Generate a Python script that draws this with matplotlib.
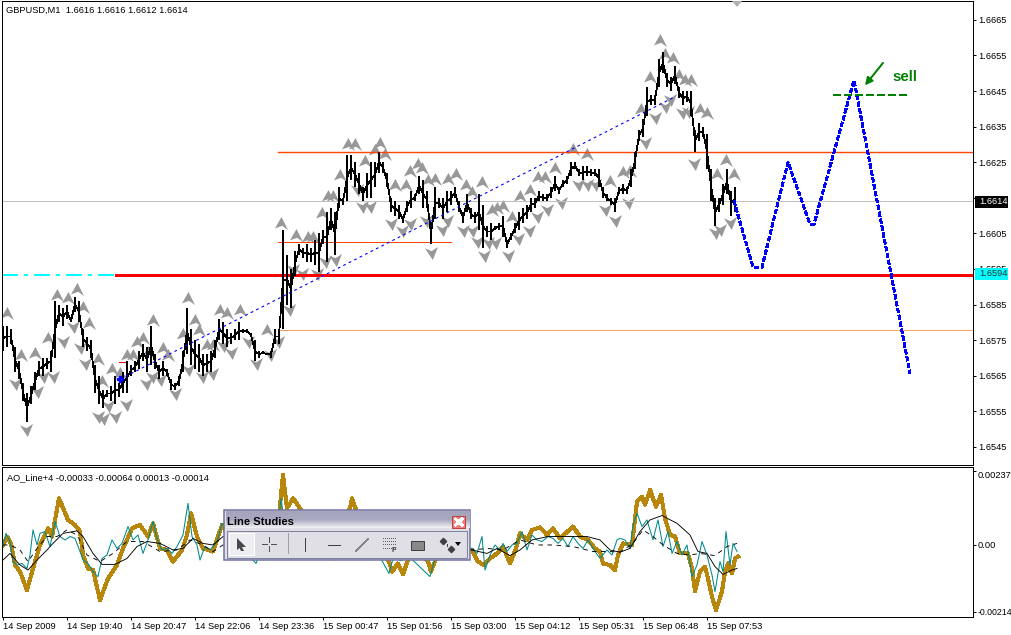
import matplotlib
matplotlib.use("Agg")
import matplotlib.pyplot as plt
import numpy as np
from matplotlib.colors import LinearSegmentedColormap
from matplotlib.patches import FancyArrowPatch, Polygon, Rectangle
from matplotlib.path import Path

W, H = 1012, 635

# M1 bars, sampled every fourth bar
bar_high = [
    1.6579, 1.6579, 1.6578, 1.6573, 1.6569, 1.6563, 1.6560, 1.6562, 1.6566, 1.6569,
    1.6570, 1.6570, 1.6572, 1.6586, 1.6585, 1.6584, 1.6585, 1.6581, 1.6587, 1.6586,
    1.6578, 1.6576, 1.6575, 1.6568, 1.6565, 1.6561, 1.6561, 1.6562, 1.6565, 1.6563,
    1.6566, 1.6569, 1.6568, 1.6569, 1.6572, 1.6574, 1.6573, 1.6579, 1.6571, 1.6568,
    1.6569, 1.6567, 1.6564, 1.6563, 1.6565, 1.6572, 1.6584, 1.6578, 1.6575, 1.6574,
    1.6571, 1.6571, 1.6572, 1.6575, 1.6581, 1.6580, 1.6578, 1.6577, 1.6578, 1.6580,
    1.6578, 1.6578, 1.6577, 1.6575, 1.6572, 1.6572, 1.6571, 1.6572, 1.6578, 1.6578,
    1.6606, 1.6599, 1.6595, 1.6600, 1.6602, 1.6601, 1.6602, 1.6601, 1.6603, 1.6605,
    1.6606, 1.6611, 1.6612, 1.6611, 1.6618, 1.6615, 1.6627, 1.6627, 1.6625, 1.6622,
    1.6618, 1.6622, 1.6625, 1.6625, 1.6628, 1.6625, 1.6622, 1.6615, 1.6614, 1.6613,
    1.6610, 1.6614, 1.6617, 1.6616, 1.6621, 1.6620, 1.6617, 1.6608, 1.6618, 1.6615,
    1.6615, 1.6617, 1.6617, 1.6618, 1.6614, 1.6611, 1.6616, 1.6612, 1.6611, 1.6616,
    1.6613, 1.6607, 1.6608, 1.6607, 1.6608, 1.6610, 1.6603, 1.6605, 1.6608, 1.6611,
    1.6612, 1.6613, 1.6615, 1.6615, 1.6617, 1.6616, 1.6616, 1.6618, 1.6621, 1.6618,
    1.6620, 1.6621, 1.6625, 1.6625, 1.6623, 1.6624, 1.6624, 1.6623, 1.6623, 1.6623,
    1.6618, 1.6616, 1.6615, 1.6615, 1.6618, 1.6619, 1.6618, 1.6623, 1.6628, 1.6634,
    1.6637, 1.6646, 1.6644, 1.6644, 1.6654, 1.6656, 1.6650, 1.6649, 1.6652, 1.6646,
    1.6645, 1.6645, 1.6645, 1.6634, 1.6636, 1.6635, 1.6633, 1.6623, 1.6615, 1.6615,
    1.6619, 1.6623, 1.6617, 1.6618,
]
bar_low = [
    1.6572, 1.6573, 1.6574, 1.6566, 1.6564, 1.6558, 1.6552, 1.6557, 1.6561, 1.6565,
    1.6565, 1.6567, 1.6566, 1.6570, 1.6580, 1.6579, 1.6581, 1.6580, 1.6583, 1.6580,
    1.6573, 1.6572, 1.6570, 1.6560, 1.6557, 1.6556, 1.6559, 1.6558, 1.6557, 1.6559,
    1.6560, 1.6560, 1.6565, 1.6566, 1.6567, 1.6569, 1.6566, 1.6568, 1.6567, 1.6564,
    1.6565, 1.6565, 1.6561, 1.6561, 1.6562, 1.6566, 1.6571, 1.6568, 1.6567, 1.6566,
    1.6565, 1.6566, 1.6566, 1.6570, 1.6575, 1.6574, 1.6573, 1.6574, 1.6575, 1.6575,
    1.6577, 1.6577, 1.6576, 1.6569, 1.6570, 1.6571, 1.6571, 1.6570, 1.6574, 1.6574,
    1.6578, 1.6585, 1.6584, 1.6593, 1.6599, 1.6598, 1.6597, 1.6597, 1.6596, 1.6594,
    1.6602, 1.6597, 1.6606, 1.6599, 1.6612, 1.6613, 1.6614, 1.6620, 1.6618, 1.6616,
    1.6614, 1.6615, 1.6615, 1.6618, 1.6622, 1.6622, 1.6618, 1.6611, 1.6610, 1.6609,
    1.6608, 1.6611, 1.6612, 1.6614, 1.6616, 1.6612, 1.6612, 1.6602, 1.6609, 1.6612,
    1.6609, 1.6611, 1.6613, 1.6615, 1.6611, 1.6608, 1.6611, 1.6609, 1.6608, 1.6606,
    1.6601, 1.6604, 1.6603, 1.6606, 1.6606, 1.6604, 1.6601, 1.6603, 1.6605, 1.6606,
    1.6608, 1.6609, 1.6611, 1.6612, 1.6614, 1.6614, 1.6614, 1.6615, 1.6617, 1.6616,
    1.6618, 1.6619, 1.6621, 1.6623, 1.6621, 1.6620, 1.6621, 1.6621, 1.6621, 1.6618,
    1.6615, 1.6614, 1.6613, 1.6611, 1.6616, 1.6616, 1.6616, 1.6618, 1.6623, 1.6631,
    1.6632, 1.6638, 1.6641, 1.6641, 1.6646, 1.6650, 1.6646, 1.6645, 1.6647, 1.6643,
    1.6641, 1.6642, 1.6638, 1.6628, 1.6631, 1.6632, 1.6623, 1.6614, 1.6607, 1.6611,
    1.6613, 1.6616, 1.6610, 1.6611,
]

# fractals above and below the bars
fractal_up_bar = [
    7, 21, 35, 48, 57, 68, 77, 83, 89, 98, 102, 112, 120, 127, 133, 137, 143, 148, 153,
    163, 168, 183, 188, 195, 199, 207, 213, 220, 227, 240, 267, 281, 296, 308, 313, 322,
    328, 333, 340, 348, 355, 365, 375, 380, 385, 395, 406, 410, 418, 422, 428, 435, 448,
    456, 466, 472, 482, 492, 497, 503, 512, 520, 530, 538, 545, 555, 573, 587, 610, 623,
    630, 641, 650, 660, 665, 673, 679, 685, 691, 700, 707, 717, 726, 734,
]
fractal_up_price = [
    1.65825, 1.65708, 1.65714, 1.65757, 1.65876, 1.65867, 1.65895, 1.65844, 1.65797,
    1.65696, 1.65636, 1.65668, 1.65658, 1.65708, 1.65708, 1.65745, 1.65757, 1.65717,
    1.65806, 1.65727, 1.65708, 1.65767, 1.65867, 1.65806, 1.65778, 1.65736, 1.65736,
    1.65836, 1.65825, 1.65836, 1.65778, 1.66080, 1.66045, 1.66039, 1.66039, 1.66106,
    1.66154, 1.66154, 1.66214, 1.66300, 1.66300, 1.66254, 1.66284, 1.66304, 1.66274,
    1.66185, 1.66185, 1.66226, 1.66244, 1.66235, 1.66200, 1.66204, 1.66204, 1.66216,
    1.66185, 1.66167, 1.66195, 1.66115, 1.66120, 1.66126, 1.66095, 1.66154, 1.66173,
    1.66207, 1.66207, 1.66235, 1.66286, 1.66274, 1.66198, 1.66223, 1.66226, 1.66400,
    1.66490, 1.66593, 1.66554, 1.66544, 1.66495, 1.66482, 1.66482, 1.66400, 1.66387,
    1.66216, 1.66256, 1.66216,
]
fractal_down_bar = [
    15, 26, 37, 43, 53, 63, 73, 80, 85, 98, 103, 108, 115, 126, 146, 152, 160, 175, 188,
    202, 212, 223, 231, 248, 256, 270, 278, 289, 293, 302, 317, 325, 335, 357, 362, 370,
    391, 402, 410, 426, 431, 442, 447, 463, 472, 477, 484, 488, 495, 508, 518, 529, 537,
    547, 561, 578, 587, 595, 605, 615, 628, 645, 655, 665, 670, 682, 688, 694, 715, 720,
    730,
]
fractal_down_price = [
    1.65626, 1.65497, 1.65605, 1.65645, 1.65645, 1.65745, 1.65786, 1.65727, 1.65684,
    1.65534, 1.65527, 1.65564, 1.65534, 1.65567, 1.65628, 1.65645, 1.65638, 1.65598,
    1.65666, 1.65645, 1.65654, 1.65733, 1.65714, 1.65745, 1.65684, 1.65708, 1.65745,
    1.65836, 1.65947, 1.65936, 1.65936, 1.65970, 1.65975, 1.66171, 1.66123, 1.66123,
    1.66076, 1.66057, 1.66076, 1.66085, 1.65995, 1.66060, 1.66085, 1.66057, 1.66057,
    1.66026, 1.65986, 1.66023, 1.66023, 1.65986, 1.66035, 1.66057, 1.66095, 1.66115,
    1.66136, 1.66185, 1.66185, 1.66185, 1.66115, 1.66085, 1.66136, 1.66303, 1.66373,
    1.66404, 1.66424, 1.66387, 1.66392, 1.66244, 1.66050, 1.66059, 1.66078,
]

# hand-drawn forecast and trend line
forecast_bar = [734, 753, 762, 788, 810, 814, 854, 910]
forecast_price = [1.66141, 1.65955, 1.65955, 1.66250, 1.66076, 1.66076, 1.66480, 1.65657]
trend_bar = [120, 675]
trend_price = [1.65640, 1.66434]

res_high = 1.66280
res_short = 1.66027
sup_level = 1.65934
fib_level = 1.65778
last_price = 1.6614
sell_level = 1.66440

price_ticks = [1.6665, 1.6655, 1.6645, 1.6635, 1.6625, 1.6615, 1.6605, 1.6595, 1.6585,
               1.6575, 1.6565, 1.6555, 1.6545]
ao_ticks = [0.00237, 0.0, -0.00214]
ao_tick_labels = ["0.00237", "0.00", "-0.00214"]
time_ticks = [3, 67, 131, 195, 259, 323, 387, 451, 515, 579, 643, 707]
time_labels = [
    "14 Sep 2009", "14 Sep 19:40", "14 Sep 20:47", "14 Sep 22:06", "14 Sep 23:36",
    "15 Sep 00:47", "15 Sep 01:56", "15 Sep 03:00", "15 Sep 04:12", "15 Sep 05:31",
    "15 Sep 06:48", "15 Sep 07:53",
]

# AO_Line indicator buffers
gold_bar = [
    3, 7, 11, 15, 20, 27, 33, 40, 48, 52, 59, 68, 75, 80, 83, 88, 93, 100, 108, 117, 123,
    132, 140, 148, 153, 160, 167, 173, 182, 187, 191, 197, 203, 213, 222, 230, 245, 260,
    270, 278, 283, 287, 293, 300, 310, 320, 340, 350, 352, 355, 365, 380, 389, 392, 398,
    403, 408, 415, 428, 431, 436, 445, 472, 478, 484, 490, 497, 503, 510, 516, 520, 527,
    532, 540, 547, 553, 560, 573, 580, 588, 595, 600, 603, 610, 615, 618, 623, 632, 637,
    642, 645, 650, 656, 661, 665, 670, 675, 680, 688, 692, 695, 700, 705, 708, 712, 716,
    722, 725, 728, 732, 735, 738,
]
gold_val = [
    0.0, 0.00027, 0.00005, -0.00064, -0.00085, -0.00144, -0.00075, 0.0, 0.00053, 0.00027,
    0.00149, 0.0008, 0.00064, 0.00043, -0.00032, -0.00075, -0.0008, -0.00176, -0.00107,
    -0.00064, -0.00011, 0.00053, 0.00064, 0.00027, 0.00069, -0.00011, -0.00016, -0.00053,
    -0.00016, 0.00032, 0.00101, 0.00027, -0.00011, -0.00021, 0.00064, 0.0002, 0.0003,
    -0.0001, 0.0, 0.0006, 0.00224, 0.00117, 0.00149, 0.00117, 0.0005, 0.0, 0.0006, 0.00117,
    0.00149, 0.00122, 0.0004, 0.0, -0.00053, -0.00085, -0.00059, -0.00094, -0.00048,
    -0.0001, -0.00053, -0.00085, -0.00043, 0.0, -0.00016, -0.00053, -0.00064, -0.00043,
    -0.00027, -0.00005, -0.00059, -0.00011, 0.00037, 0.00016, 0.00048, 0.00056, 0.00032,
    0.00053, 0.00021, 0.00059, 0.00027, 0.00016, -0.00011, -0.00021, -0.00059, -0.00064,
    -0.0008, -0.00032, 0.00005, 0.0, 0.00138, 0.00154, 0.00128, 0.00176, 0.00122, 0.0016,
    0.00085, 0.00032, 0.00027, -0.00027, -0.00027, -0.00075, -0.00147, -0.00085, -0.00069,
    -0.00107, -0.00165, -0.00208, -0.00149, -0.00085, -0.00059, -0.00091, -0.00043, -0.00037,
]
teal_bar = [
    3, 6, 10, 13, 17, 22, 27, 30, 33, 37, 40, 45, 50, 55, 60, 65, 70, 75, 80, 83, 88, 93,
    98, 102, 107, 112, 117, 122, 128, 133, 138, 143, 148, 153, 157, 162, 167, 172, 177,
    183, 188, 192, 197, 200, 205, 210, 217, 222, 235, 256, 270, 280, 281, 285, 300, 320,
    335, 350, 370, 389, 395, 400, 410, 430, 436, 450, 472, 477, 482, 485, 490, 495, 500,
    503, 507, 512, 517, 522, 527, 532, 537, 542, 548, 553, 558, 563, 568, 573, 578, 583,
    588, 595, 600, 607, 612, 617, 620, 625, 630, 633, 637, 642, 647, 653, 658, 663, 668,
    672, 677, 682, 687, 692, 697, 702, 707, 712, 715, 720, 723, 726, 730, 733, 737,
]
teal_val = [
    0.0, 0.00037, 0.00011, -0.00053, -0.00064, -0.00059, -0.00075, -0.00032, 0.00048, 0.0,
    0.00037, 0.00043, -0.00005, 0.00075, 0.00027, 0.00016, 0.00027, 0.00021, -0.00021,
    -0.00048, -0.00059, -0.00085, -0.00101, -0.00043, -0.00032, 0.00016, -0.00011, 0.00005,
    0.00059, 0.00016, 0.00032, -0.00027, 0.00016, 0.00075, 0.00021, -0.00016, -0.00011,
    -0.00027, -0.00005, 0.00032, 0.00133, 0.00027, 0.0, -0.00048, -0.00005, -0.00016,
    0.00011, 0.00069, 0.0002, -0.00059, 0.0006, 0.00117, 0.00149, 0.0006, 0.0003, 0.0001,
    -0.00048, 0.0006, 0.0002, -0.00091, -0.0002, -0.0005, -0.0004, -0.00101, -0.0003, 0.0,
    -0.00011, -0.00027, 0.00027, -0.0008, -0.00032, 0.0, -0.00016, 0.00005, -0.00021, 0.0,
    0.00005, 0.00043, -0.00016, 0.00032, 0.00016, 0.00011, 0.00027, 0.00021, 0.00005,
    0.00021, -0.00005, 0.00027, 0.00005, -0.00011, 0.00016, -0.00021, -0.00043, -0.00016,
    -0.00032, 0.00016, 0.00021, 0.00016, -0.00011, 0.00064, 0.00101, 0.00059, 0.0008,
    0.00016, 0.0008, -0.00005, 0.00043, -0.00027, 0.00011, -0.00032, 0.0, -0.00101,
    -0.00064, 0.00011, -0.00032, -0.00096, -0.00149, -0.00053, -0.00085, 0.00043, -0.00064,
    0.00005, -0.00021,
]
ma_slow_bar = [
    3, 10, 20, 28, 37, 47, 53, 63, 77, 83, 93, 102, 115, 127, 137, 147, 160, 173, 183, 193,
    203, 213, 223, 240, 260, 280, 300, 320, 340, 360, 380, 400, 420, 440, 460, 472, 487,
    497, 510, 520, 532, 548, 567, 587, 600, 610, 620, 630, 640, 650, 662, 677, 690, 698,
    707, 715, 723, 732, 737,
]
ma_slow_val = [
    -0.00048, -0.00027, -0.00064, -0.0008, -0.00048, -0.00016, 0.00005, 0.00037, 0.00045,
    0.00027, -0.00027, -0.00062, -0.00062, -0.00043, -0.00005, 0.00011, 0.00005, -0.00016,
    -0.00011, 0.00021, 0.00005, 0.0, 0.00027, 0.0001, -0.0001, 0.0003, 0.0006, 0.0005,
    0.0003, 0.0002, 0.0001, -0.00005, -0.00015, -0.00015, -0.00012, -0.00016, -0.00027,
    -0.00011, -0.00034, -0.00016, 0.00016, 0.00027, 0.00027, 0.00027, 0.00016, -0.00016,
    -0.00023, -0.00011, 0.00043, 0.0008, 0.00094, 0.00069, 0.00032, -0.00021, -0.00027,
    -0.00069, -0.00094, -0.0008, -0.00075,
]
ma_fast_bar = [
    3, 10, 20, 28, 37, 47, 57, 67, 77, 87, 100, 113, 127, 143, 160, 177, 190, 203, 213, 223,
    240, 270, 300, 330, 360, 390, 420, 450, 472, 487, 503, 520, 537, 553, 573, 593, 610,
    620, 633, 643, 653, 663, 677, 690, 700, 715, 727, 737,
]
ma_fast_val = [
    0.0, 0.0, -0.00016, -0.00053, -0.00011, 0.00027, 0.00027, 0.00048, 0.00032, -0.00032,
    -0.00053, -0.00027, 0.00011, 0.00011, -0.00021, -0.00016, 0.00016, 0.0, -0.00021, 0.0,
    0.0001, 0.0002, 0.0004, 0.0003, 0.00015, 0.00005, -0.00005, -0.0001, -0.00016, -0.00011,
    -0.00016, 0.00016, 0.0, 0.0, -0.00005, -0.00021, -0.00021, -0.00023, 0.00005, 0.00048,
    0.00027, 0.0, -0.00027, -0.00032, -0.00027, -0.00034, -0.00005, 0.00005,
]

FONT = "Liberation Sans"
TICK_SIZE = 6.7
PX = 0.72  # one screen pixel in points

ARROW_UP = Path([(0, 1), (1, -1), (0.1, -0.35), (-1, -0.75), (0, 1)], closed=True)
ARROW_DOWN = Path([(0.2, -1), (1, 1), (0, 0.35), (-1, 0.8), (0.2, -1)], closed=True)


def panel_axes(fig, top, bottom):
    ax = fig.add_axes([2 / W, 1 - bottom / H, 971 / W, (bottom - top) / H])
    ax.set_xlim(2, 973)
    ax.yaxis.tick_right()
    ax.tick_params(axis="both", length=3 * PX, width=PX, labelsize=TICK_SIZE, pad=2 * PX)
    for s in ax.spines.values():
        s.set_linewidth(PX)
    return ax


def level(ax, price, start, end, color, lw=PX):
    ax.plot([start, end], [price, price], color=color, lw=lw, antialiased=True, zorder=2)


def draw_price(ax):
    x = 3 + 4 * np.arange(len(bar_high))
    high = np.array(bar_high)
    low = np.array(bar_low)

    ax.plot(fractal_up_bar, fractal_up_price, ls="none", marker=ARROW_UP, ms=9.4, mfc="#989898",
            mec="none", zorder=1)
    ax.plot(fractal_down_bar, fractal_down_price, ls="none", marker=ARROW_DOWN, ms=9.4, mfc="#989898",
            mec="none", zorder=1)

    level(ax, last_price, 2, 973, "#c0c0c0")
    level(ax, fib_level, 278, 973, "#f4a460")
    level(ax, res_high, 278, 973, "#ff4500", lw=1.0)
    level(ax, res_short, 278, 451, "#ff4500")
    ax.plot([2, 116], [sup_level, sup_level], color="#00ffff", lw=1.5 * PX, ls=(0, (10, 4, 2, 4)), zorder=2)
    level(ax, sup_level, 116, 973, "#ff0000", lw=3 * PX)
    level(ax, 1.65688, 119, 126, "#ff0000")

    ax.vlines(x, low, high, color="black", lw=2 * PX, antialiased=False, zorder=3)
    ax.plot(x, (high + low) / 2, color="black", lw=0.8 * PX, zorder=3)

    ax.plot(trend_bar, trend_price, color="#0000ff", lw=0.8, ls=(0, (2.5, 3)), antialiased=True, zorder=4)
    ax.plot(trend_bar[0], trend_price[0], ls="none", marker="P", ms=5, color="#0000ff", zorder=4)
    ax.plot(forecast_bar, forecast_price, color="#0000ff", lw=1.25, ls=(0, (2.6, 1.4)), zorder=4)

    ax.plot([833, 907], [sell_level, sell_level], color="#008000", lw=2 * PX, ls=(0, (3.5, 1.5)), zorder=4)
    ax.add_patch(FancyArrowPatch((883, 1.66529), (865, 1.66466), arrowstyle="-|>", mutation_scale=11,
                                 color="#008000", lw=2 * PX, shrinkA=0, shrinkB=0, zorder=4))
    ax.text(892, 1.66489, "sell", color="#008000", fontsize=10.8, fontweight="bold", family=FONT,
            va="center", ha="left")

    ax.set_ylim(1.65399, 1.66703)
    ax.set_yticks(price_ticks)
    # 1.6615 sits right under the last-price tag
    ax.set_yticklabels(["" if t == 1.6615 else f"{t:.4f}" for t in price_ticks], family=FONT)
    ax.set_xticks([])
    ax.text(6, 1.66703 - 0.00026, "GBPUSD,M1  1.6616 1.6616 1.6612 1.6614", fontsize=TICK_SIZE,
            family=FONT, va="center", ha="left")


def draw_ao(ax):
    ax.plot(gold_bar, gold_val, color="#b8860b", lw=2.2, solid_joinstyle="round", zorder=2)
    ax.plot(teal_bar, teal_val, color="#008b8b", lw=0.75, antialiased=True, zorder=3)
    ax.plot(ma_slow_bar, ma_slow_val, color="black", lw=0.65, antialiased=True, zorder=4)
    ax.plot(ma_fast_bar, ma_fast_val, color="black", lw=0.65, ls=(0, (5, 5)), antialiased=True, zorder=4)

    ax.set_ylim(-0.0023, 0.00249)
    ax.set_yticks(ao_ticks)
    ax.set_yticklabels(ao_tick_labels, family=FONT)
    ax.get_yticklabels()[0].set_va("top")
    ax.get_yticklabels()[2].set_fontsize(6.3)
    ax.set_xticks(time_ticks)
    ax.set_xticklabels(time_labels, family=FONT, ha="left")
    ax.text(7, 0.00249 - 0.00035, "AO_Line+4 -0.00033 -0.00064 0.00013 -0.00014", fontsize=TICK_SIZE,
            family=FONT, va="center", ha="left")


def draw_chrome(ov):
    # price tags on the scale
    ov.add_patch(Rectangle((975, 196), 33, 11.5, fc="black", ec="none"))
    ov.text(979, 201.8, "1.6614", color="white", fontsize=TICK_SIZE, family=FONT, va="center")
    ov.add_patch(Rectangle((975, 268), 33, 11.5, fc="#00ffff", ec="none"))
    ov.text(979, 273.8, "1.6594", color="#303030", fontsize=TICK_SIZE, family=FONT, va="center")
    ov.add_patch(Polygon([(732, 1), (742, 1), (737, 7)], fc="#b0b0b0", ec="none"))

    # Line Studies floating toolbar
    ov.add_patch(Rectangle((224.5, 509.5), 246, 50.5, fc="#dfdfe5", ec="#7070a0", lw=1.5 * PX))
    title_cmap = LinearSegmentedColormap.from_list("title", ["#a4a4bc", "#a8a8c0", "#f0f0f4"])
    ov.imshow(np.linspace(0, 1, 32).reshape(-1, 1), extent=(226, 469.5, 528, 511), aspect="auto",
              cmap=title_cmap, zorder=1)
    ov.text(227, 522, "Line Studies", fontsize=8.1, fontweight="bold", family=FONT, va="center", zorder=3)
    ov.add_patch(Rectangle((452.5, 516), 12.5, 12, fc="#ee8080", ec="#c04040", lw=PX, zorder=3))
    ov.plot([455.5, 462], [519, 525], color="white", lw=2 * PX, zorder=4)
    ov.plot([455.5, 462], [525, 519], color="white", lw=2 * PX, zorder=4)
    ov.add_patch(Rectangle((227.5, 530.5), 240, 27, fc="#dfdfe5", ec="#8080a0", lw=PX, zorder=2))

    ov.add_patch(Rectangle((229.5, 532.5), 25, 22, fc="#eeeef2", ec="white", lw=PX, zorder=3))
    ov.add_patch(Polygon([(237, 538), (246, 547), (242, 547), (244, 551), (241, 551), (239.5, 548), (237, 550)],
                         fc="#484848", ec="none", zorder=4))
    c = "#505050"
    ov.plot([262, 267], [544, 544], color=c, lw=PX, zorder=4)
    ov.plot([271, 276], [544, 544], color=c, lw=PX, zorder=4)
    ov.plot([269, 269], [537, 542], color=c, lw=PX, zorder=4)
    ov.plot([269, 269], [546, 551], color=c, lw=PX, zorder=4)
    ov.plot([288, 288], [533, 553], color="#a0a0a0", lw=PX, zorder=4)
    ov.plot([305.5, 305.5], [538, 551], color="#404040", lw=PX, zorder=4)
    ov.plot([328, 340], [544.5, 544.5], color="#404040", lw=PX, zorder=4)
    ov.plot([356, 368], [551, 539], color="#888888", lw=0.9, zorder=4)
    for yy in (538, 541, 544, 548):
        ov.plot([383, 396], [yy, yy], color="#606060", lw=PX, ls=(0, (1, 2)), zorder=4)
    ov.text(394, 550.5, "F", fontsize=5.5, fontweight="bold", family=FONT, color="#404040", ha="center",
            va="center", zorder=4)
    ov.add_patch(Rectangle((411.5, 540.5), 12.5, 9, fc="#888888", ec="#404040", lw=PX, zorder=4))
    ov.plot([443, 451], [541, 549], ls="none", marker="D", ms=3.2, color="#404040", zorder=4)
    ov.plot([447, 447], [544, 546], color="#404040", lw=PX, zorder=4)
    ov.add_patch(Polygon([(455, 542), (461, 542), (458, 546)], fc="black", ec="none", zorder=4))


def main():
    plt.rcParams["font.family"] = FONT
    plt.rcParams["lines.antialiased"] = False

    fig = plt.figure(figsize=(W / 100, H / 100), dpi=100, facecolor="white")
    ax_price = panel_axes(fig, 1, 465)
    ax_ao = panel_axes(fig, 467, 617)
    draw_price(ax_price)
    draw_ao(ax_ao)

    ov = fig.add_axes([0, 0, 1, 1], zorder=10)
    ov.patch.set_alpha(0)
    ov.axis("off")
    draw_chrome(ov)
    ov.set_xlim(0, W)
    ov.set_ylim(H, 0)

    fig.savefig("out.png", dpi=100)


if __name__ == "__main__":
    main()
